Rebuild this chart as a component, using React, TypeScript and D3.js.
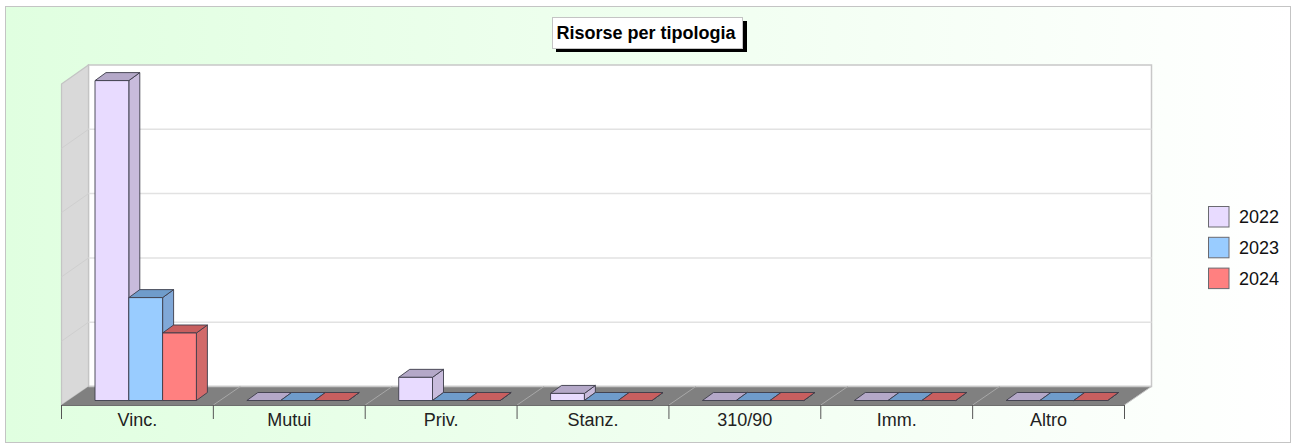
import React from "react";
import * as d3 from "d3";

const categories = ["Vinc.", "Mutui", "Priv.", "Stanz.", "310/90", "Imm.", "Altro"];
const years = ["2022", "2023", "2024"];
const values2022 = [99.5, 0, 7.2, 2.2, 0, 0, 0];
const values2023 = [32, 0, 0, 0, 0, 0, 0];
const values2024 = [21, 0, 0, 0, 0, 0, 0];
const seriesValues = [values2022, values2023, values2024];
const yTicks = [0, 20, 40, 60, 80, 100];
const frontColors = ["#e8dbff", "#99ccff", "#ff8080"];
const topColors = ["#b4a8c8", "#6f9ccb", "#c85f5f"];
const sideColors = ["#c8bbdc", "#80a8d8", "#d26a6a"];

const W = 1295, H = 444;
const left = 61.5, right = 1124.5;
const floorFrontY = 405, depthX = 27, depthY = 19;
const barDX = 11, barDY = 8;

const xGroup = d3.scaleBand<string>().domain(categories).range([left, right]).paddingInner(0).paddingOuter(0);
const y = d3.scaleLinear().domain([0, 100]).range([386.5, 65]);
const barBase = 400.5;
const barInset = 33.5;
const barW = 33.8;
const xBar = d3.scaleBand<string>().domain(years).range([0, barW * 3]);
const poly = (pts: number[][]) => pts.map((p) => p.join(",")).join(" ");
const font = "'Liberation Sans', Arial, sans-serif";
const wallLeft = left + depthX, wallRight = right + depthX;

export default function App() {
  return (
    <svg width={W} height={H} style={{ position: "absolute", left: 0, top: 0, display: "block" }} fontFamily={font}>
      <defs>
        <linearGradient id="bg" x1="0" x2="1" y1="0" y2="0">
          <stop offset="0" stopColor="#e0ffe0" />
          <stop offset="1" stopColor="#ffffff" />
        </linearGradient>
      </defs>
      <rect x={5.5} y={6.5} width={1285} height={436} fill="url(#bg)" stroke="#c4c4c4" />

      {/* back wall */}
      <rect x={wallLeft} y={y(100)} width={wallRight - wallLeft} height={y(0) - y(100)} fill="#ffffff" stroke="#c8c8c8" strokeWidth={1.5} />
      {/* side wall */}
      <polygon
        points={poly([[left, y(100) + depthY], [wallLeft, y(100)], [wallLeft, y(0)], [left, floorFrontY]])}
        fill="#d9d9d9"
        stroke="#c4c4c4"
        strokeWidth={1.2}
      />
      {yTicks.slice(1, -1).map((t) => (
        <g key={t} stroke="#e2e2e2" strokeWidth={1.5}>
          <line x1={wallLeft} x2={wallRight} y1={y(t)} y2={y(t)} />
          <line x1={left} x2={wallLeft} y1={y(t) + depthY} y2={y(t)} stroke="#cfcfcf" strokeWidth={1} />
        </g>
      ))}
      {/* floor */}
      <polygon
        points={poly([[left, floorFrontY], [wallLeft, y(0)], [wallRight, y(0)], [right, floorFrontY]])}
        fill="#808080"
      />
      <line x1={wallLeft} x2={wallRight} y1={y(0)} y2={y(0)} stroke="#c8c8c8" strokeWidth={1.5} />
      <line x1={wallRight} x2={right} y1={y(0)} y2={floorFrontY} stroke="#c8c8c8" />
      {categories.slice(1).map((c) => {
        const x0 = xGroup(c)!;
        return <line key={c} x1={x0} y1={floorFrontY} x2={x0 + depthX} y2={y(0)} stroke="#a8a8a8" strokeWidth={1} />;
      })}
      <line x1={left} x2={right} y1={floorFrontY + 0.5} y2={floorFrontY + 0.5} stroke="#6e6e6e" />

      {/* ticks and labels */}
      {categories.map((c) => (
        <g key={c}>
          <line x1={xGroup(c)!} x2={xGroup(c)!} y1={floorFrontY} y2={419} stroke="#555555" />
          <text x={xGroup(c)! + xGroup.bandwidth() / 2} y={426} textAnchor="middle" fontSize={18} fill="#222222">
            {c}
          </text>
        </g>
      ))}
      <line x1={right} x2={right} y1={floorFrontY} y2={419} stroke="#555555" />

      {/* bars, drawn left to right inside each group */}
      {categories.map((c, ci) => (
        <g key={c}>
          {years.map((yr, si) => {
            const v = seriesValues[si][ci];
            const h = y(0) - y(v);
            const x0 = xGroup(c)! + barInset + xBar(yr)!;
            const x1 = x0 + xBar.bandwidth();
            const top = barBase - h;
            return (
              <g key={yr} stroke="#3c3c4a" strokeWidth={0.9} strokeLinejoin="round">
                <polygon points={poly([[x1, top], [x1 + barDX, top - barDY], [x1 + barDX, barBase - barDY], [x1, barBase]])} fill={sideColors[si]} />
                <polygon points={poly([[x0, top], [x0 + barDX, top - barDY], [x1 + barDX, top - barDY], [x1, top]])} fill={topColors[si]} />
                {h > 0 && <rect x={x0} y={top} width={x1 - x0} height={h} fill={frontColors[si]} />}
              </g>
            );
          })}
        </g>
      ))}

      {/* title */}
      <rect x={556} y={21} width={191} height={31} fill="#000000" />
      <rect x={552.5} y={17.5} width={190} height={31} fill="#ffffff" stroke="#c4c4c4" />
      <text x={646} y={39} textAnchor="middle" fontSize={18} fontWeight="bold" fill="#000000">
        Risorse per tipologia
      </text>

      {/* legend */}
      {years.map((yr, i) => (
        <g key={yr}>
          <rect x={1208.5} y={206.5 + i * 30.8} width={20.5} height={20.5} fill={frontColors[i]} stroke="#6a6a70" />
          <text x={1239} y={223 + i * 30.8} fontSize={18} fill="#111111">
            {yr}
          </text>
        </g>
      ))}
    </svg>
  );
}
